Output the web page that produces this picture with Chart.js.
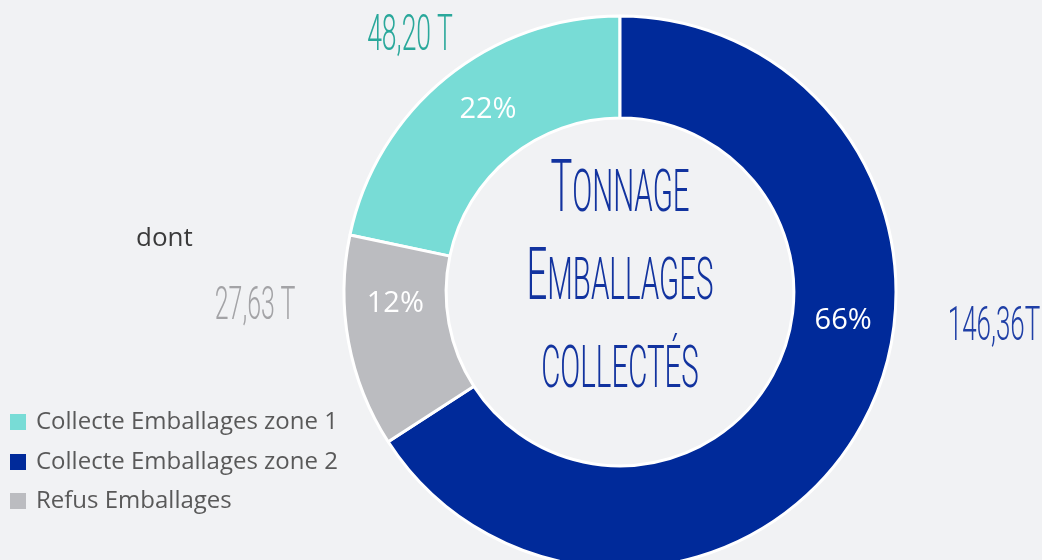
<!DOCTYPE html>
<html>
<head>
<meta charset="utf-8">
<script src="https://cdn.jsdelivr.net/npm/chart.js@4.4.1/dist/chart.umd.min.js"></script>
<style>
    html, body {
        margin: 0;
        padding: 0;
        background: #f1f2f4;
        width: 1042px;
        height: 560px;
        overflow: hidden;
    }
    .chart-box {
        position: absolute;
        left: 0;
        top: 0;
        width: 1042px;
        height: 560px;
    }
    .cond {
        position: absolute;
        width: 400px;
        text-align: center;
        white-space: nowrap;
        font-family: Roboto, sans-serif;
        font-weight: 300;
        line-height: 1;
        transform: scaleX(0.53);
    }
    .title-line {
        position: absolute;
        left: 320px;
        width: 600px;
        text-align: center;
        white-space: nowrap;
        font-family: Roboto, sans-serif;
        font-weight: 300;
        color: #12339f;
        font-size: 73px;
        line-height: 73px;
        transform: scaleX(0.5);
    }
    .title-line .sc {
        font-size: 59px;
        text-transform: uppercase;
    }
    .dont {
        position: absolute;
        left: 136px;
        top: 218px;
        font-family: "Open Sans", sans-serif;
        font-size: 26px;
        color: #3a3a3a;
    }
    .legend {
        position: absolute;
        left: 10px;
        top: 402px;
        font-family: "Open Sans", sans-serif;
        font-size: 24px;
        color: #595959;
    }
    .legend .row {
        height: 39.5px;
        line-height: 36px;
        white-space: nowrap;
    }
    .legend .box {
        display: inline-block;
        width: 16px;
        height: 16px;
        margin-right: 10px;
        vertical-align: -1px;
    }
</style>
</head>
<body>
<div class="chart-box">
    <canvas id="myChart"></canvas>
</div>

<div class="title-line" style="top:150px;"><span>T</span><span class="sc">onnage</span></div>
<div class="title-line" style="top:238px;"><span>E</span><span class="sc">mballages</span></div>
<div class="title-line" style="top:326px;"><span class="sc">collectés</span></div>

<div class="dont">dont</div>
<div class="legend" id="legend"></div>
<div id="valueLabels"></div>

<script>
    // données du graphique
    const categories = ['Collecte Emballages zone 1', 'Collecte Emballages zone 2', 'Refus Emballages'];
    const tonnages = [48.20, 146.36, 27.63];
    const tonnageLabels = ['48,20 T', '146,36T', '27,63 T'];
    const colors = ['#78dcd6', '#002a9a', '#bbbcc0'];
    const labelColors = ['#2aa89b', '#1f3fa6', '#a3a3a6'];

    const total = tonnages.reduce((a, b) => a + b, 0);

    // libellés des tonnages autour du graphique
    const labelPos = [
        { x: 410, y: 33 },
        { x: 994, y: 323 },
        { x: 255, y: 302 }
    ];
    const labelSize = [50, 49, 47];
    // position des pourcentages le long de chaque secteur (0 = début, 1 = fin)
    const pctAlong = [0.54, 0.41, 0.67];

    const valueBox = document.getElementById('valueLabels');
    tonnageLabels.forEach((txt, i) => {
        const d = document.createElement('div');
        d.className = 'cond';
        d.textContent = txt;
        d.style.color = labelColors[i];
        d.style.fontSize = labelSize[i] + 'px';
        d.style.left = (labelPos[i].x - 200) + 'px';
        d.style.top = (labelPos[i].y - labelSize[i] / 2) + 'px';
        valueBox.appendChild(d);
    });

    // légende
    const legend = document.getElementById('legend');
    categories.forEach((name, i) => {
        const row = document.createElement('div');
        row.className = 'row';
        const box = document.createElement('span');
        box.className = 'box';
        box.style.background = colors[i];
        row.appendChild(box);
        row.appendChild(document.createTextNode(name));
        legend.appendChild(row);
    });

    // pourcentages dans les secteurs
    const percentPlugin = {
        id: 'percentLabels',
        afterDatasetsDraw(chart) {
            const ctx = chart.ctx;
            const meta = chart.getDatasetMeta(0);
            ctx.save();
            ctx.fillStyle = '#ffffff';
            ctx.font = '29px "Open Sans", sans-serif';
            ctx.textAlign = 'center';
            ctx.textBaseline = 'middle';
            meta.data.forEach((arc, i) => {
                const p = arc.getProps(['x', 'y', 'startAngle', 'endAngle', 'innerRadius', 'outerRadius'], true);
                const a = p.startAngle + (p.endAngle - p.startAngle) * pctAlong[i];
                const r = (p.innerRadius + p.outerRadius) / 2;
                const pct = Math.round(tonnages[i] / total * 100) + '%';
                ctx.fillText(pct, p.x + Math.cos(a) * r, p.y + Math.sin(a) * r);
            });
            ctx.restore();
        }
    };

    const chartElement = document.getElementById('myChart');
    new Chart(chartElement, {
        type: 'doughnut',
        data: {
            labels: categories,
            datasets: [{
                data: tonnages,
                backgroundColor: colors,
                borderColor: '#ffffff',
                borderWidth: 3,
                clip: false
            }]
        },
        options: {
            responsive: true,
            maintainAspectRatio: false,
            animation: false,
            rotation: -tonnages[0] / total * 360,
            radius: 276,
            cutout: '63%',
            layout: {
                padding: { left: 198, right: 0, top: 24, bottom: 0 }
            },
            plugins: {
                legend: { display: false },
                tooltip: { enabled: false }
            }
        },
        plugins: [percentPlugin]
    });
</script>
</body>
</html>
